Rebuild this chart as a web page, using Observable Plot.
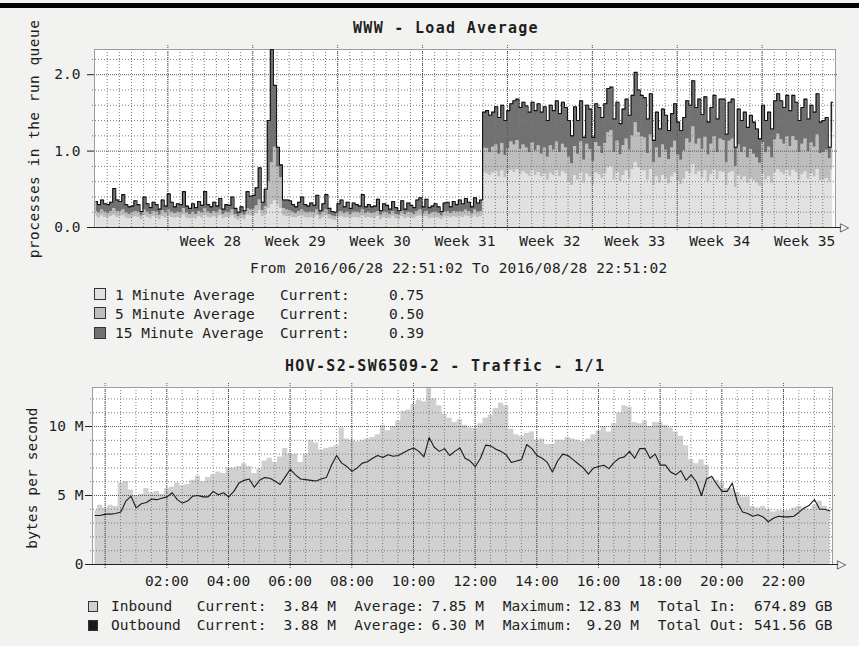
<!DOCTYPE html>
<html><head><meta charset="utf-8">
<script src="https://cdn.jsdelivr.net/npm/d3@7"></script>
<script src="https://cdn.jsdelivr.net/npm/@observablehq/plot@0.6"></script>
<style>
html,body{margin:0;padding:0;background:#f2f3f1;}
#page{position:relative;width:859px;height:646px;overflow:hidden;background:#f2f3f1;font-family:"DejaVu Sans Mono",monospace;color:#1e1e1e;border-top:3px solid #f2f3f1;box-sizing:border-box;}
#topbar{position:fixed;left:0;top:3px;width:859px;height:5px;background:#000;z-index:50;}
.t{position:absolute;white-space:pre;font-size:14.5px;line-height:16px;}
.b{font-weight:bold;font-size:15px;letter-spacing:1.3px;}
.box{position:absolute;box-sizing:border-box;border:1px solid #333;}
</style></head><body><div id="topbar"></div><div id="page"></div>
<script>
// ---------- Load average (3 stacked series, 6-hour bins from 2016/06/28 22:51) ----------
const loadSeries = ["1 Minute Average", "5 Minute Average", "15 Minute Average"];
const loadColors = ["#e1e1e1", "#bdbdbd", "#717171"];
const loadCurrent = ["0.75", "0.50", "0.39"];
const oneMin = [
.14,.12,.15,.13,.12,.14,.16,.13,.14,.15, .12,.11,.12,.14,.13,.10,.15,.13,.11,.14,
.13,.10,.14,.12,.15,.13,.12,.13,.12,.16, .12,.11,.13,.11,.14,.12,.16,.13,.12,.14,
.12,.15,.11,.13,.12,.15,.11,.09,.12,.10, .16,.15,.15,.18,.22,.14,.17,.25,.30,.35,
.30,.25,.15,.14,.14,.13,.12,.14,.15,.13, .12,.13,.12,.15,.10,.13,.15,.11,.10,.09,
.13,.14,.12,.13,.11,.13,.13,.12,.15,.12, .13,.12,.12,.14,.10,.13,.12,.11,.14,.11,
.10,.14,.11,.13,.12,.11,.14,.15,.12,.14, .11,.12,.13,.12,.10,.13,.14,.12,.14,.13,
.14,.13,.15,.14,.12,.15,.13,.14,.72,.70, .68,.71,.73,.66,.74,.65,.70,.75,.72,.76,
.69,.73,.70,.67,.74,.68,.72,.66,.70,.62, .71,.68,.74,.66,.73,.70,.60,.55,.68,.62,
.72,.58,.70,.66,.56,.71,.69,.64,.70,.78, .80,.62,.72,.60,.68,.74,.64,.76,.85,.78,
.75,.74,.62,.76,.55,.66,.58,.68,.64,.57, .66,.71,.60,.56,.63,.73,.70,.82,.69,.73,
.65,.74,.60,.69,.75,.62,.73,.72,.55,.71, .73,.52,.68,.62,.66,.58,.64,.61,.58,.54,
.70,.62,.66,.58,.72,.76,.72,.69,.75,.67, .75,.72,.62,.69,.73,.63,.70,.66,.76,.61,
.62,.64,.60,.75];
const fiveMin = [
.07,.07,.08,.07,.06,.07,.09,.08,.07,.08, .07,.06,.07,.07,.07,.05,.08,.07,.06,.07,
.07,.06,.08,.07,.08,.07,.06,.07,.07,.09, .07,.06,.07,.06,.07,.07,.09,.07,.06,.07,
.07,.08,.06,.07,.07,.08,.06,.05,.06,.06, .09,.08,.09,.10,.14,.08,.10,.35,.55,.70,
.50,.40,.10,.09,.08,.07,.06,.07,.08,.07, .07,.07,.07,.08,.06,.07,.08,.06,.05,.05,
.07,.07,.06,.07,.06,.07,.07,.07,.08,.06, .07,.06,.07,.07,.06,.07,.07,.06,.07,.06,
.06,.07,.06,.07,.07,.06,.07,.08,.06,.07, .06,.07,.07,.06,.05,.07,.07,.06,.07,.07,
.07,.07,.08,.07,.06,.08,.07,.07,.32,.33, .30,.34,.35,.30,.36,.29,.33,.37,.36,.38,
.33,.35,.34,.31,.37,.32,.35,.30,.34,.30, .36,.33,.38,.32,.36,.34,.32,.28,.38,.34,
.40,.30,.39,.36,.30,.40,.37,.33,.40,.46, .47,.36,.41,.35,.39,.42,.37,.44,.52,.46,
.44,.43,.35,.45,.30,.38,.33,.40,.37,.32, .38,.42,.35,.32,.37,.43,.41,.50,.40,.43,
.37,.44,.35,.40,.44,.36,.43,.42,.30,.42, .43,.28,.40,.36,.39,.33,.38,.35,.33,.30,
.41,.36,.39,.33,.43,.46,.43,.40,.44,.39, .44,.42,.36,.40,.43,.36,.41,.39,.45,.36,
.36,.37,.30,.50];
const fifteenMin = [
.13,.11,.13,.11,.12,.12,.26,.15,.13,.20, .11,.10,.09,.14,.10,.06,.17,.11,.09,.12,
.10,.08,.14,.09,.21,.13,.09,.11,.11,.22, .09,.08,.11,.09,.13,.10,.22,.10,.09,.12,
.09,.15,.07,.10,.10,.17,.08,.06,.09,.06, .22,.18,.18,.24,.42,.11,.23,.80,1.48,.81,
.25,.17,.11,.13,.13,.10,.09,.12,.17,.10, .09,.12,.10,.19,.06,.11,.20,.08,.06,.06,
.11,.15,.09,.13,.08,.12,.10,.09,.20,.09, .10,.09,.09,.16,.06,.11,.10,.07,.13,.09,
.06,.14,.07,.12,.10,.09,.15,.16,.09,.16, .09,.09,.11,.09,.06,.12,.12,.09,.13,.10,
.15,.11,.15,.12,.09,.16,.12,.15,.47,.50, .49,.46,.50,.48,.50,.46,.50,.50,.58,.54,
.55,.56,.55,.53,.53,.53,.55,.55,.54,.48, .53,.52,.54,.51,.55,.53,.48,.37,.52,.44,
.54,.30,.51,.53,.32,.51,.51,.47,.52,.58, .57,.44,.51,.41,.48,.52,.46,.53,.66,.56,
.54,.53,.45,.54,.29,.47,.38,.47,.46,.38, .45,.49,.43,.39,.44,.50,.49,.60,.48,.52,
.46,.53,.43,.48,.54,.44,.52,.54,.37,.51, .52,.25,.47,.42,.46,.40,.45,.42,.38,.32,
.49,.42,.46,.38,.51,.53,.51,.48,.54,.47, .54,.50,.42,.48,.52,.43,.49,.46,.54,.41,
.42,.43,.15,.39];
const loadTicks = [0, 1, 2];
const loadGridY = [0.2,0.4,0.6,0.8,1.2,1.4,1.6,1.8,2.2];
const loadMajorY = [1, 2];
const weekLabels = ["Week 28","Week 29","Week 30","Week 31","Week 32","Week 33","Week 34","Week 35"];
const weekLabelDays = [9.55,16.55,23.55,30.55,37.55,44.55,51.55,58.55];
const weekStartDays = [6.05,13.05,20.05,27.05,34.05,41.05,48.05,55.05];
const dayLines = d3.range(1.05, 61, 1);

// ---------- Traffic (10-minute bins, starting 23:35) ----------
const trafficSeries = ["Inbound", "Outbound"];
const trafficColors = ["#d0d0d0", "#1a1a1a"];
const inbound = [
3.9,4.3,4.1,4.3,4.2,5.9,6.0,5.4,5.0,5.1, 5.5,5.2,5.3,5.1,5.5,5.6,5.9,5.7,5.8,6.1,
6.4,6.0,6.3,6.5,6.7,6.6,7.0,7.0,7.1,7.3, 7.1,6.6,6.9,7.5,7.7,7.4,7.8,8.4,8.0,8.0,
7.4,8.0,9.0,8.8,8.3,8.4,8.5,8.6,9.9,9.1, 9.0,8.9,9.0,9.1,9.2,9.4,10.1,9.7,10.0,10.4,
11.1,11.2,11.6,11.9,11.8,12.83,12.0,11.5,10.9,10.6, 10.3,10.5,10.1,9.9,9.85,10.2,10.6,10.8,11.3,11.7,
11.5,9.8,9.4,9.3,9.5,9.6,9.0,9.1,8.7,8.7, 9.0,9.0,9.2,9.1,9.0,8.9,9.1,9.4,9.7,10.0,
9.6,10.2,11.0,11.5,11.4,10.3,10.2,10.4,10.0,10.3, 10.3,10.1,9.9,9.6,9.3,8.6,7.6,7.3,7.6,7.2,
6.3,6.1,5.9,5.5,5.5,5.2,4.9,4.9,4.2,4.1, 4.2,4.0,3.8,3.9,3.9,3.9,4.1,4.2,4.1,4.0,
4.3,4.6,4.2,3.84];
const outbound = [
3.55,3.55,3.65,3.65,3.7,3.8,4.6,4.95,4.1,4.4, 4.5,4.75,4.7,4.8,4.9,5.2,4.7,4.45,4.6,4.95,
5.0,4.9,4.9,5.3,5.05,5.2,4.9,5.3,5.9,6.1, 6.2,5.6,6.1,6.3,6.25,6.05,5.8,6.35,6.9,6.5,
6.2,6.15,6.1,6.05,6.2,6.3,7.2,7.9,7.35,7.1, 6.75,7.0,7.35,7.45,7.7,7.9,7.75,7.95,7.85,7.9,
8.1,8.3,8.45,8.2,7.8,9.2,8.5,8.2,8.4,7.9, 8.2,8.45,7.7,7.5,7.1,7.7,8.65,8.6,8.35,8.2,
7.95,7.4,7.5,7.6,8.7,8.4,7.9,7.7,7.4,6.7, 7.5,8.0,7.9,7.6,7.3,7.0,6.55,7.0,7.1,7.2,
6.95,7.4,7.7,7.8,8.2,7.7,8.4,8.4,7.7,8.0, 7.2,7.2,6.7,6.5,6.8,6.1,6.5,6.0,5.0,6.2,
6.4,5.8,5.3,5.3,5.9,4.5,3.8,3.7,3.5,3.6, 3.45,3.1,3.35,3.5,3.45,3.45,3.5,3.8,4.1,4.3,
4.7,4.0,4.0,3.88];
const trafficCurrent = ["3.84 M", "3.88 M"];
const trafficAverage = ["7.85 M", "6.30 M"];
const trafficMaximum = ["12.83 M", "9.20 M"];
const trafficTotalLabel = ["Total In:", "Total Out:"];
const trafficTotal = ["674.89 GB", "541.56 GB"];
const trafficTicks = [0, 5, 10];
const trafficGridY = [1,2,3,4,6,7,8,9,11,12];
const trafficMajorY = [5, 10];
const hourTicks = [2,4,6,8,10,12,14,16,18,20,22];
const hourLabels = ["02:00","04:00","06:00","08:00","10:00","12:00","14:00","16:00","18:00","20:00","22:00"];
const hourMajors = [0,2,4,6,8,10,12,14,16,18,20,22];
const halfHourLines = d3.range(0, 23.6, 0.5);

// ---------- build tables ----------
const loadT = oneMin.map((_, i) => i * 0.25 + 0.125);
const loadLong = [];
loadT.forEach((t, i) => {
  loadLong.push({t, series: loadSeries[0], v: oneMin[i]});
  loadLong.push({t, series: loadSeries[1], v: fiveMin[i]});
  loadLong.push({t, series: loadSeries[2], v: fifteenMin[i]});
});
const loadTotal = loadT.map((t, i) => ({t, v: oneMin[i] + fiveMin[i] + fifteenMin[i]}));
const traffic = inbound.map((v, i) => ({t: -0.41 + (i + 0.5) / 6, inbound: v, outbound: outbound[i]}));

const svgStyle = {background: "transparent", fontFamily: "'DejaVu Sans Mono', monospace", fontSize: "14.5px", color: "#1e1e1e", overflow: "visible"};
const minor = {stroke: "#7c7c7c", strokeDasharray: "1,2"};
const major = {stroke: "#555", strokeDasharray: "1,1"};

const loadMax = 2.33, loadEnd = 61.1;
const chart1 = Plot.plot({
  width: 859, height: 212, marginLeft: 94, marginRight: 24, marginTop: 9, marginBottom: 25,
  x: {domain: [0, loadEnd], label: null},
  y: {domain: [0, loadMax], label: null},
  color: {domain: loadSeries, range: loadColors},
  style: svgStyle,
  marks: [
    Plot.frame({fill: "white", stroke: "none"}),
    Plot.areaY(loadLong, {x: "t", y: "v", z: "series", fill: "series", curve: "step"}),
    Plot.ruleX(dayLines, {...minor, insetBottom: -2}),
    Plot.ruleY(loadGridY, {...minor, insetLeft: -2}),
    Plot.ruleX(weekStartDays, {...major, insetTop: -4, insetBottom: -4}),
    Plot.ruleY(loadMajorY, {...major, insetRight: -3}),
    Plot.frame({stroke: "#9c9c9c"}),
    Plot.lineY(loadTotal, {x: "t", y: "v", curve: "step", stroke: "#111", strokeWidth: 1.1}),
    Plot.ruleY([0], {stroke: "#222", insetLeft: -7, insetRight: -6}),
    Plot.text([{x: loadEnd, y: 0}], {x: "x", y: "y", text: () => "\u25B7", dx: 9, fontSize: 12, fontFamily: "DejaVu Sans", fill: "#333"}),
    Plot.axisY({ticks: loadTicks, tickFormat: d => d.toFixed(1), tickSize: 7, tickPadding: 7, label: null}),
    Plot.axisX({ticks: weekLabelDays, tickFormat: d => weekLabels[weekLabelDays.indexOf(d)], tickSize: 0, tickPadding: 8, label: null})
  ]
});

const tStart = -0.41, tEnd = 23.59, trafficMax = 12.83;
const chart2 = Plot.plot({
  width: 859, height: 212, marginLeft: 92, marginRight: 27, marginTop: 7, marginBottom: 28,
  x: {domain: [tStart, tEnd], label: null},
  y: {domain: [0, trafficMax], label: null},
  style: svgStyle,
  marks: [
    Plot.frame({fill: "white", stroke: "none"}),
    Plot.areaY(traffic, {x: "t", y: "inbound", curve: "step", fill: trafficColors[0]}),
    Plot.ruleX(halfHourLines, {...minor, insetBottom: -2}),
    Plot.ruleY(trafficGridY, {...minor, insetLeft: -2}),
    Plot.ruleX(hourMajors, {...major, insetTop: -4, insetBottom: -4}),
    Plot.ruleY(trafficMajorY, {...major, insetRight: -3}),
    Plot.frame({stroke: "#9c9c9c"}),
    Plot.lineY(traffic, {x: "t", y: "outbound", stroke: trafficColors[1], strokeWidth: 1.1}),
    Plot.ruleY([0], {stroke: "#222", insetLeft: -7, insetRight: -6}),
    Plot.text([{x: tEnd, y: 0}], {x: "x", y: "y", text: () => "\u25B7", dx: 9, fontSize: 12, fontFamily: "DejaVu Sans", fill: "#333"}),
    Plot.axisY({ticks: trafficTicks, tickFormat: d => d === 0 ? "0" : d + " M", tickSize: 7, tickPadding: 2, label: null}),
    Plot.axisX({ticks: hourTicks, tickFormat: d => hourLabels[hourTicks.indexOf(d)], tickSize: 0, tickPadding: 11, label: null})
  ]
});

const page = document.getElementById("page");
[[chart1, 37], [chart2, 377]].forEach(([svg, top]) => {
  svg.style.position = "absolute";
  svg.style.left = "0px";
  svg.style.top = top + "px";
  svg.style.maxWidth = "none";
  page.appendChild(svg);
});

// page has a 3px top border, so absolute offsets inside it are shifted by 3
const OFF = 3;
function txt(s, x, y, opt = {}) {
  const d = document.createElement("div");
  d.className = "t" + (opt.bold ? " b" : "");
  d.textContent = s;
  d.style.left = x + "px";
  d.style.top = (y - 7.7 - OFF) + "px";
  if (opt.end) d.style.transform = "translateX(-100%)";
  if (opt.ls) d.style.letterSpacing = opt.ls + "px";
  page.appendChild(d);
  return d;
}
function vtxt(s, cx, cy, ls) {
  const d = document.createElement("div");
  d.className = "t";
  d.textContent = s;
  d.style.left = cx + "px";
  d.style.top = (cy - OFF) + "px";
  d.style.letterSpacing = ls + "px";
  d.style.transform = "translate(-50%,-50%) rotate(-90deg)";
  page.appendChild(d);
}
function box(x, y, w, h, fill) {
  const d = document.createElement("div");
  d.className = "box";
  Object.assign(d.style, {left: x + "px", top: (y - OFF) + "px", width: w + "px", height: h + "px", background: fill});
  page.appendChild(d);
}

// titles and labels
txt("WWW - Load Average", 353, 27.5, {bold: true});
vtxt("processes in the run queue", 33.5, 138.5, 0.45);
txt("From 2016/06/28 22:51:02 To 2016/08/28 22:51:02", 250, 267.3, {ls: 0.15});
const loadRows = [294.3, 313.3, 332.7];
loadSeries.forEach((s, i) => {
  const y = loadRows[i];
  box(94, y - 6, 12, 12, loadColors[i]);
  txt(s, 115, y);
  txt("Current:", 280, y);
  txt(loadCurrent[i], 424, y, {end: true});
});
txt("HOV-S2-SW6509-2 - Traffic - 1/1", 285, 366, {bold: true});
vtxt("bytes per second", 31.5, 477.5, 0.1);
const trafficRows = [606, 625];
trafficSeries.forEach((s, i) => {
  const y = trafficRows[i];
  box(88, y - 5.5, 10, 11, trafficColors[i]);
  txt(s, 111, y);
  txt("Current:", 196.7, y);
  txt(trafficCurrent[i], 336, y, {end: true});
  txt("Average:", 354.3, y);
  txt(trafficAverage[i], 484, y, {end: true});
  txt("Maximum:", 502.7, y);
  txt(trafficMaximum[i], 639, y, {end: true});
  txt(trafficTotalLabel[i], 657.7, y);
  txt(trafficTotal[i], 832.5, y, {end: true});
});
</script></body></html>
